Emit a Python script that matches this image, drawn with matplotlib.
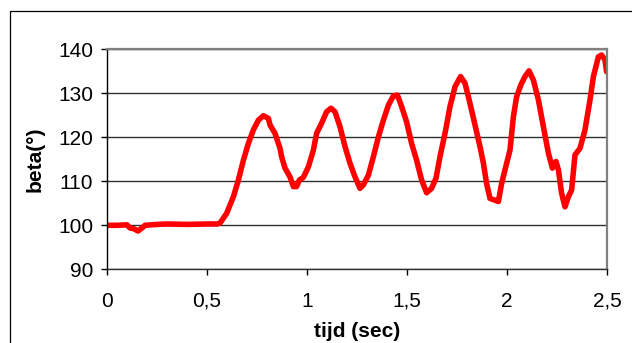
import matplotlib
matplotlib.use("Agg")
import matplotlib.pyplot as plt
from matplotlib.patches import Rectangle
from matplotlib.ticker import FuncFormatter

# gemeten hoek beta tegen de tijd
tijd = [0.00, 0.05, 0.10, 0.115, 0.135, 0.155, 0.175, 0.19, 0.25, 0.30, 0.40, 0.50,
        0.55, 0.565, 0.598, 0.632, 0.657, 0.682, 0.707, 0.732, 0.757, 0.782,
        0.807, 0.815, 0.84, 0.865, 0.873, 0.89, 0.915, 0.932, 0.948, 0.962,
        0.982, 1.007, 1.032, 1.048, 1.073, 1.098, 1.12, 1.14, 1.165, 1.19,
        1.215, 1.24, 1.265, 1.282, 1.307, 1.332, 1.357, 1.382, 1.407, 1.432,
        1.452, 1.473, 1.498, 1.523, 1.548, 1.573, 1.598, 1.623, 1.645, 1.665,
        1.69, 1.715, 1.74, 1.768, 1.79, 1.815, 1.84, 1.865, 1.882, 1.898,
        1.915, 1.94, 1.957, 1.973, 1.99, 2.015, 2.032, 2.048, 2.07, 2.09,
        2.11, 2.132, 2.157, 2.182, 2.207, 2.227, 2.245, 2.257, 2.273, 2.29,
        2.307, 2.323, 2.34, 2.365, 2.39, 2.415, 2.432, 2.457, 2.473, 2.49,
        2.498]
beta = [100.0, 100.0, 100.1, 99.4, 99.2, 98.7, 99.4, 100.0, 100.2, 100.3, 100.2, 100.3,
        100.3, 100.5, 102.7, 106.5, 110.3, 114.8, 118.6, 121.7, 123.9, 124.9,
        124.3, 122.8, 120.9, 117.5, 115.6, 113.0, 111.0, 108.8, 108.8, 110.3,
        110.9, 113.3, 117.1, 120.9, 123.2, 125.8, 126.6, 125.8, 122.4, 117.9,
        114.1, 111.0, 108.4, 109.2, 111.4, 115.6, 120.1, 123.9, 127.3, 129.4,
        129.6, 127.0, 123.5, 118.6, 114.8, 110.3, 107.4, 108.4, 110.7, 115.6,
        120.9, 127.0, 131.5, 133.8, 132.3, 127.7, 122.8, 117.9, 114.1, 109.5,
        106.1, 105.7, 105.4, 109.5, 112.6, 117.1, 124.7, 129.2, 132.0, 133.8,
        135.1, 133.0, 128.5, 122.4, 116.4, 113.0, 114.5, 112.6, 107.3, 104.2,
        106.5, 108.0, 116.0, 117.5, 121.7, 128.5, 133.8, 138.3, 138.7, 137.6,
        134.9]

fig = plt.figure(figsize=(6.32, 3.43), dpi=100)
plt.rcParams['font.family'] = ['Liberation Sans', 'DejaVu Sans']

# kader rond de hele grafiek
fig.patches.append(Rectangle((10 / 632, -0.1), 1.2, 1.1 - 11 / 343,
                             transform=fig.transFigure, fill=False,
                             edgecolor='black', linewidth=0.9))

ax = fig.add_axes([107 / 632, 1 - 269.3 / 343, 500 / 632, 220 / 343])
ax.plot(tijd, beta, color='#ff0000', linewidth=4.0, solid_capstyle='round',
        solid_joinstyle='round')

ax.set_xlim(0, 2.5)
ax.set_ylim(90, 140)
ax.set_xticks([0, 0.5, 1, 1.5, 2, 2.5])
ax.set_yticks([90, 100, 110, 120, 130, 140])
ax.xaxis.set_major_formatter(FuncFormatter(lambda v, p: ('%g' % v).replace('.', ',')))

ax.yaxis.grid(True, color='#303030', linewidth=1.0)
ax.set_axisbelow(True)

for side in ['top', 'right']:
    ax.spines[side].set_color('#808080')
    ax.spines[side].set_linewidth(1.6)
ax.spines['left'].set_color('black')
ax.spines['bottom'].set_color('#303030')
ax.spines['left'].set_linewidth(1.0)
ax.spines['bottom'].set_linewidth(1.0)

ax.tick_params(axis='both', direction='out', length=4, width=1, labelsize=15)
ax.tick_params(axis='y', pad=6)
ax.tick_params(axis='x', pad=12)

ax.set_xlabel('tijd (sec)', fontsize=15, fontweight='bold', labelpad=8)
ax.set_ylabel('beta(°)', fontsize=15, fontweight='bold', labelpad=10)

fig.savefig('out.png', dpi=100)
